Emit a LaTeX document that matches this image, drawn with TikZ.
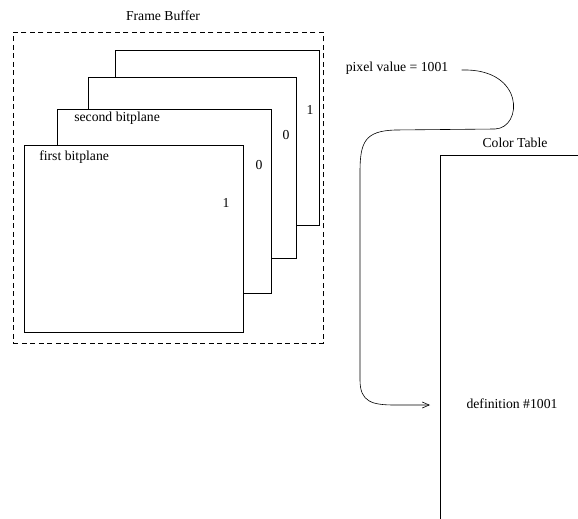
\documentclass[tikz,border=0pt]{standalone}
\usepackage{fontspec}
\setmainfont{Liberation Serif}
\usetikzlibrary{arrows.meta,positioning}

\begin{document}
\begin{tikzpicture}[
	x=1pt, y=1pt,
	font=\fontsize{13.7}{15}\selectfont,
	line width=0.6pt,
	>={Straight Barb[length=7pt,width=6pt]},
	plane/.style={rectangle, draw, fill=white, inner sep=0pt, anchor=north west},
	frame/.style={rectangle, draw, dash pattern=on 5pt off 3.5pt, inner sep=0pt, anchor=north west},
	txt/.style={inner sep=1pt}
]
\useasboundingbox (0,0) rectangle (578,-519);

% --- Frame buffer ---
\node[frame, minimum width=310pt, minimum height=311pt] (fb) at (13,-32) {};
\node[txt] (fbtitle) at (163,-16) {Frame Buffer};

% --- Bitplanes, back to front ---
\node[plane, minimum width=204pt, minimum height=175pt] (p4) at (115,-50) {};
\node[plane, minimum width=208pt, minimum height=181pt] (p3) at (88,-77) {};
\node[plane, minimum width=214pt, minimum height=184pt] (p2) at (57,-109) {};
\node[plane, minimum width=219pt, minimum height=187pt] (p1) at (24,-145) {};

\node[txt, anchor=west] (l2) at (73,-118) {second bitplane};
\node[txt, anchor=west] (l1) at (38,-157) {first bitplane};

\node[txt] (b4) at (310,-110) {1};
\node[txt] (b3) at (286,-135) {0};
\node[txt] (b2) at (259,-165) {0};
\node[txt] (b1) at (226,-203) {1};

% --- Color table ---
\coordinate (ctl) at (440,-155);
\coordinate (ctr) at (578,-155);
\coordinate (ctb) at (440,-519);
\draw (ctr) -- (ctl) -- (ctb);
\node[txt] (cttitle) at (515,-143) {Color Table};
\node[txt] (def) at (512,-404) {definition \#1001};
\coordinate (defin) at (440,-405);

% --- Pixel value lookup ---
\node[txt] (pix) at (397,-68) {pixel value = 1001};
\draw[->] ([xshift=12pt,yshift=-2pt]pix.east) .. controls (525,-68) and (523,-128) .. (495,-129)
	-- (395,-130) .. controls (365,-131) and (360,-142) .. (360,-172)
	-- (360,-380) .. controls (360,-402) and (372,-405) .. (395,-405)
	-- ([xshift=-10pt]defin);

\end{tikzpicture}
\end{document}
